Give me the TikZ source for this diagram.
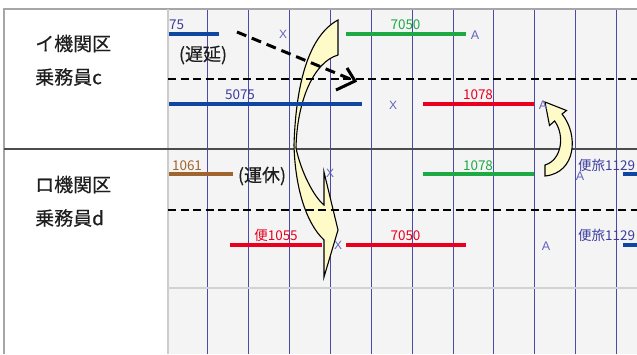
\documentclass[tikz,border=0pt]{standalone}
\usepackage{fontspec}
\setmainfont{Liberation Sans}
\newfontfamily\jp{Noto Sans CJK JP}
\newfontfamily\jpb{Noto Sans CJK JP}[FakeBold=0.35]
\definecolor{gridbg}{HTML}{F4F4F4}
\definecolor{vline}{HTML}{4B4BA5}
\definecolor{barblue}{HTML}{0F47A0}
\definecolor{bargreen}{HTML}{1DAA45}
\definecolor{barred}{HTML}{E8001E}
\definecolor{barbrown}{HTML}{A0642E}
\definecolor{lblblue}{HTML}{3C3CA0}
\definecolor{markc}{HTML}{6464BE}
\definecolor{arrowfill}{HTML}{FFFBC8}
\definecolor{txt}{HTML}{1E1E1E}
\tikzset{
  barline/.style={line width=4pt},
  lbl/.style={font=\jp\fontsize{13.5}{14}\selectfont, inner sep=0pt, anchor=base},
  side/.style={font=\jpb\fontsize{19}{20}\selectfont, inner sep=0pt, anchor=west, text=txt},
  paren/.style={font=\jpb\fontsize{18}{19}\selectfont, inner sep=0pt, text=txt},
  xmark/.style={font=\fontsize{12}{13}\selectfont, inner sep=0pt, text=markc},
  amark/.style={font=\fontsize{12.5}{13}\selectfont, inner sep=0pt, text=markc},
  rowdash/.style={line width=2pt, dash pattern=on 8pt off 4.5pt},
  gridv/.style={vline, line width=1pt},
}
\begin{document}
\begin{tikzpicture}[x=1pt,y=-1pt]
\useasboundingbox (0,0) rectangle (637,354);
\fill[white] (0,0) rectangle (637,354);
% grid background
\fill[gridbg] (168,9) rectangle (637,354);
% vertical grid lines
\foreach \gx in {207,248,289,330,371,412,453,493,534,575,616}
  \draw[gridv] (\gx,9) -- (\gx,354);
% frame
\draw[gray!70, line width=1.5pt] (4,354) -- (4,9) -- (637,9);
\draw[gray!40, line width=2pt] (168,9) -- (168,354);
\draw[gray!35, line width=1.5pt] (168,288) -- (637,288);
\draw[black!70, line width=2pt] (4,149) -- (637,149);

% big yellow curved arrow
\path[fill=arrowfill, draw=black, line width=1.1pt, line join=miter]
  (338,20) -- (338,55)
  .. controls (314,62) and (297,100) .. (296,148)
  .. controls (301,172) and (314,197) .. (324,205)
  -- (324,172) -- (338,230) -- (324,277) -- (324,240)
  .. controls (305,222) and (295,185) .. (294,145)
  .. controls (296,80) and (310,35) .. (338,20) -- cycle;

% small yellow curved arrow
\path[fill=arrowfill, draw=black, line width=1.1pt]
  (545,176) .. controls (576,173) and (579,135) .. (562,114)
  -- (566.5,110.5) -- (545,102) -- (549.5,125.5) -- (554.6,121)
  .. controls (565,135) and (562,160) .. (545,165) -- cycle;

% row dashed lines
\draw[rowdash] (168,79) -- (637,79);
\draw[rowdash] (168,210) -- (637,210);

% side labels
\node[side] (kc1) at (35,43.5) {イ機関区};
\node[side] (kc2) at (35,77) {乗務員c};
\node[side] (kd1) at (35,184.5) {ロ機関区};
\node[side] (kd2) at (35,218) {乗務員d};

% row 1 top
\draw[barline, barblue] (169,34) -- (219,34);
\node[lbl, text=lblblue, anchor=base west] (t75) at (169,29) {75};
\node[xmark] (x1) at (283,34) {X};
\draw[barline, bargreen] (346,34) -- (466,34);
\node[lbl, text=bargreen] (t7050a) at (405.5,29) {7050};
\node[amark] (a1) at (475,35) {A};

% row 1 bottom
\draw[barline, barblue] (169,104) -- (362,104);
\node[lbl, text=lblblue] (t5075) at (240,99) {5075};
\node[xmark] (x2) at (393,105) {X};
\draw[barline, barred] (423,104) -- (534,104);
\node[lbl, text=barred] (t1078a) at (478,99) {1078};
\node[amark] (a2) at (543,105) {A};

% row 2 top
\draw[barline, barbrown] (169,174) -- (233,174);
\node[lbl, text=barbrown] (t1061) at (187,170) {1061};
\node[xmark] (x3) at (330,173) {X};
\draw[barline, bargreen] (423,174) -- (534,174);
\node[lbl, text=bargreen] (t1078b) at (478,170) {1078};
\node[amark] (a3) at (580,176) {A};
\node[lbl, text=lblblue, anchor=base west] (t1129a) at (578,170) {便旅1129};
\draw[barline, barblue] (623,174) -- (637,174);

% row 2 bottom
\draw[barline, barred] (230,245) -- (322,245);
\node[lbl, text=barred] (t1055) at (276,240) {便1055};
\node[xmark] (x4) at (338,245) {X};
\draw[barline, barred] (346,245) -- (466,245);
\node[lbl, text=barred] (t7050b) at (405.5,240) {7050};
\node[amark] (a4) at (546,246) {A};
\node[lbl, text=lblblue, anchor=base west] (t1129b) at (578,240) {便旅1129};
\draw[barline, barblue] (623,245) -- (637,245);

% annotations
\node[paren] (delay) at (203,55) {(遅延)};
\node[paren] (cancel) at (262,176) {(運休)};

% dashed delay arrow
\coordinate (ds) at (237,32);
\coordinate (de) at (355,81);
\draw[line width=3pt, dash pattern=on 10pt off 6pt] (ds) -- (de);
\draw[line width=3pt, line join=miter] (347,68) -- (de) -- (336,90);
\end{tikzpicture}
\end{document}
